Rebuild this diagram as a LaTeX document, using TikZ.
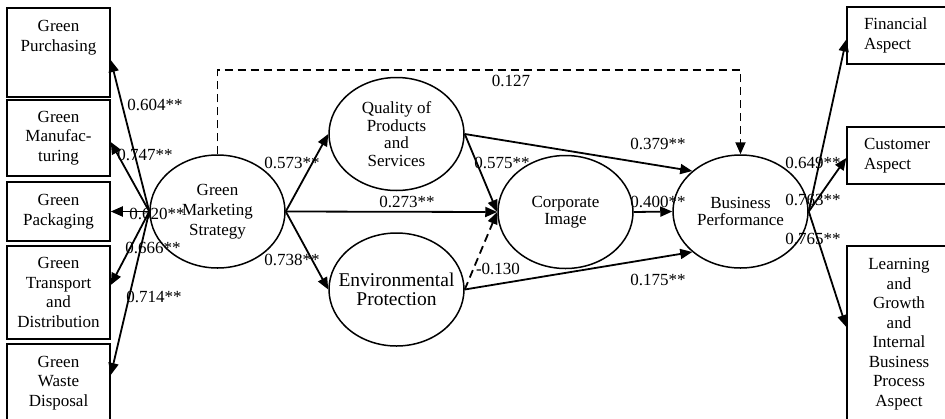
\documentclass[tikz,border=0pt]{standalone}
\usepackage{fontspec}
\setmainfont{Liberation Serif}
\usetikzlibrary{arrows.meta,shapes.geometric,positioning}

\tikzset{
  box/.style={draw, line width=1.5pt, minimum width=103pt, inner sep=2pt, align=center,
    font=\fontsize{17}{19.5}\selectfont},
  boxtxt/.style={inner sep=0pt, align=center, font=\fontsize{17}{19.5}\selectfont},
  latent/.style={draw, ellipse, line width=1.5pt, minimum width=135pt, minimum height=113pt,
    inner sep=0pt, align=center, font=\fontsize{17}{17.5}\selectfont},
  num/.style={inner sep=0pt, font=\fontsize{17}{17}\selectfont},
  arr/.style={line width=1.8pt, -{Triangle[length=12pt,width=10pt]}},
  dashline/.style={dash pattern=on 8pt off 5pt},
}

\begin{document}
\begin{tikzpicture}[x=1pt,y=-1pt]
	\clip (0,0) rectangle (945,418);
	% indicators of green marketing
	\node[box, minimum height=89pt] (gp) at (58.5,52.5) {};
	\node[boxtxt, below=13pt of gp.north] (gpt) {Green\\Purchasing};
	\node[box, minimum height=76pt] (gm) at (58.5,138) {Green\\Manufac-\\turing};
	\node[box, minimum height=59pt] (gk) at (58.5,211.5) {Green\\Packaging};
	\node[box, minimum height=93pt] (gt) at (58.5,292.5) {Green\\Transport\\and\\Distribution};
	\node[box, minimum height=78pt] (gw) at (58.5,383) {Green\\Waste\\Disposal};

	% latent variables
	\node[latent, font=\fontsize{17}{20}\selectfont] (gms) at (217.5,211.5) {Green\\Marketing\\Strategy};
	\node[latent] (qps) at (396.5,134) {Quality of\\Products\\and\\Services};
	\node[latent, inner xsep=-12pt, font=\fontsize{19.5}{19}\selectfont] (ep) at (396.5,289.5) {Environmental\\Protection};
	\node[latent] (ci) at (565.5,212) {Corporate\\Image};
	\node[latent] (bp) at (740.5,211.5) {Business\\Performance};

	% indicators of business performance
	\node[box, minimum width=104pt, text width=70pt, align=left, minimum height=57pt] (fa) at (899,35.5) {Financial\\Aspect};
	\node[box, minimum width=104pt, text width=70pt, align=left, minimum height=57pt] (ca) at (899,155.5) {Customer\\Aspect};
	\node[box, minimum width=104pt, minimum height=176pt] (lg) at (899,334) {Learning\\and\\Growth\\and\\Internal\\Business\\Process\\Aspect};

	% paths
	\foreach \b/\d in {gp/-7.5, gm/-4, gk/0, gt/7.5, gw/8}{
		\draw[arr] (gms.west) -- ([yshift=\d pt]\b.east);
	}
	\draw[arr] (gms.east) -- (qps.west);
	\draw[arr] (gms.east) -- (ep.west);
	\draw[arr] (gms.east) -- (ci.west);
	\draw[arr] (qps.east) -- (ci.west);
	\draw[arr] (qps.east) -- (bp.140);
	\draw[arr, dashline] (ep.east) -- (ci.west);
	\draw[arr] (ep.east) -- (bp.220);
	\draw[arr] (ci.east) -- (bp.west);
	\draw[arr, dashline] (gms.north) -- ++(0,-84) -| (bp.north);
	\foreach \b/\d in {fa/-4, ca/-2.5, lg/7}{
		\draw[arr] (bp.east) -- ([yshift=\d pt]\b.west);
	}

	% coefficients
	\foreach \v/\x/\y [count=\i] in {0.604/155/105, 0.747/145/155, 0.620/157/214, 0.666/153/248, 0.714/154/297}{
		\node[num] (wl\i) at (\x,\y) {\v**};
	}
	\node[num] (w1) at (292,163) {0.573**};
	\node[num] (w2) at (292,260) {0.738**};
	\node[num] (w3) at (407,202) {0.273**};
	\node[num] (w4) at (502,163) {0.575**};
	\node[num] (w5) at (498,269) {-0.130};
	\node[num] (w6) at (658,144) {0.379**};
	\node[num] (w7) at (658,202) {0.400**};
	\node[num] (w8) at (658,280) {0.175**};
	\node[num] (w9) at (511,81) {0.127};
	\foreach \v/\y [count=\i] in {0.649/163, 0.763/200, 0.765/239}{
		\node[num] (wr\i) at (813,\y) {\v**};
	}
\end{tikzpicture}
\end{document}
